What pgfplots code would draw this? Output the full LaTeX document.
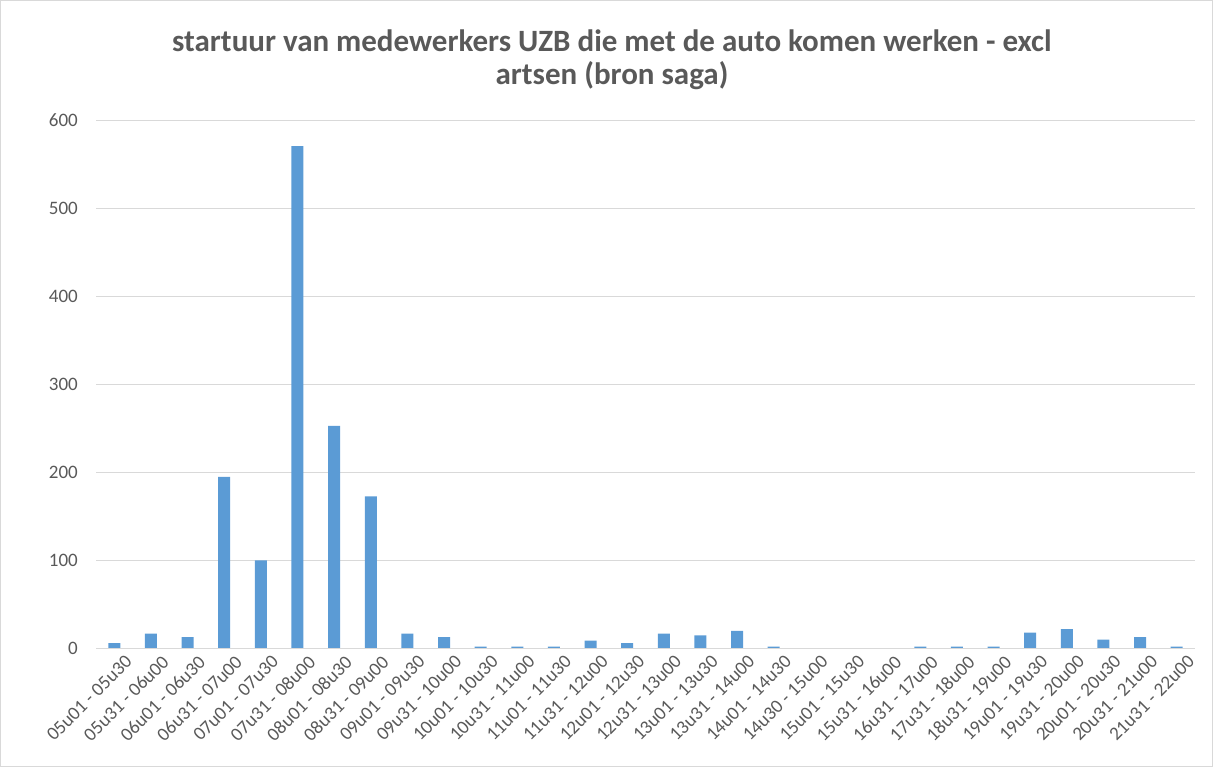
\documentclass[border=0pt]{standalone}
\usepackage{pgfplots}
\pgfplotsset{compat=1.18}
\usepackage{pgfplotstable}
\usepackage{fontspec}
\setmainfont{Carlito}
\definecolor{barblue}{HTML}{5B9BD5}
\definecolor{gridgray}{HTML}{D9D9D9}
\definecolor{txtgray}{HTML}{595959}
\pgfplotstableread{
x y
0 6
1 17
2 13
3 195
4 100
5 571
6 253
7 173
8 17
9 13
10 2
11 2
12 2
13 9
14 6
15 17
16 15
17 20
18 2
19 0
20 0
21 0
22 2
23 2
24 2
25 18
26 22
27 10
28 13
29 2
}\datatable
\begin{document}
\begin{tikzpicture}[x=1pt,y=1pt]
\draw[gridgray, line width=1pt] (0.5,0.5) rectangle (1212.5,766.5);
\node[align=center, text=txtgray, font=\fontsize{31}{33}\selectfont\bfseries] at (612,707) {startuur van medewerkers UZB die met de auto komen werken - excl\\artsen (bron saga)};
\begin{axis}[
  at={(96pt,118.5pt)}, anchor=south west,
  scale only axis, width=1099pt, height=528pt,
  xmin=-0.5, xmax=29.5, ymin=0, ymax=600,
  ytick={0,100,...,600},
  xtick=data,
  xticklabels={05u01 - 05u30,05u31 - 06u00,06u01 - 06u30,06u31 - 07u00,07u01 - 07u30,07u31 - 08u00,08u01 - 08u30,08u31 - 09u00,09u01 - 09u30,09u31 - 10u00,10u01 - 10u30,10u31 - 11u00,11u01 - 11u30,11u31 - 12u00,12u01 - 12u30,12u31 - 13u00,13u01 - 13u30,13u31 - 14u00,14u01 - 14u30,14u30 - 15u00,15u01 - 15u30,15u31 - 16u00,16u31 - 17u00,17u31 - 18u00,18u31 - 19u00,19u01 - 19u30,19u31 - 20u00,20u01 - 20u30,20u31 - 21u00,21u31 - 22u00},
  xticklabel style={rotate=45, anchor=north east, inner sep=0pt, xshift=3pt, yshift=-11pt, font=\fontsize{19}{19}\selectfont, text=txtgray},
  yticklabel style={anchor=east, inner sep=0pt, xshift=-18pt, font=\fontsize{19}{19}\selectfont, text=txtgray},
  /pgf/number format/assume math mode=true,
  major tick length=0pt,
  axis lines=left,
  y axis line style={draw=none},
  x axis line style={draw=gridgray, line width=1.5pt, -},
  ymajorgrids, grid style={gridgray, line width=1pt},
  ybar, bar width=12pt, bar shift=0pt,
  clip=false,
]
\addplot[fill=barblue, draw=none] table[x=x,y=y] {\datatable};
\draw[gridgray, line width=1.5pt] (axis cs:-0.5,0) -- (axis cs:29.5,0);
\end{axis}
\end{tikzpicture}
\end{document}
